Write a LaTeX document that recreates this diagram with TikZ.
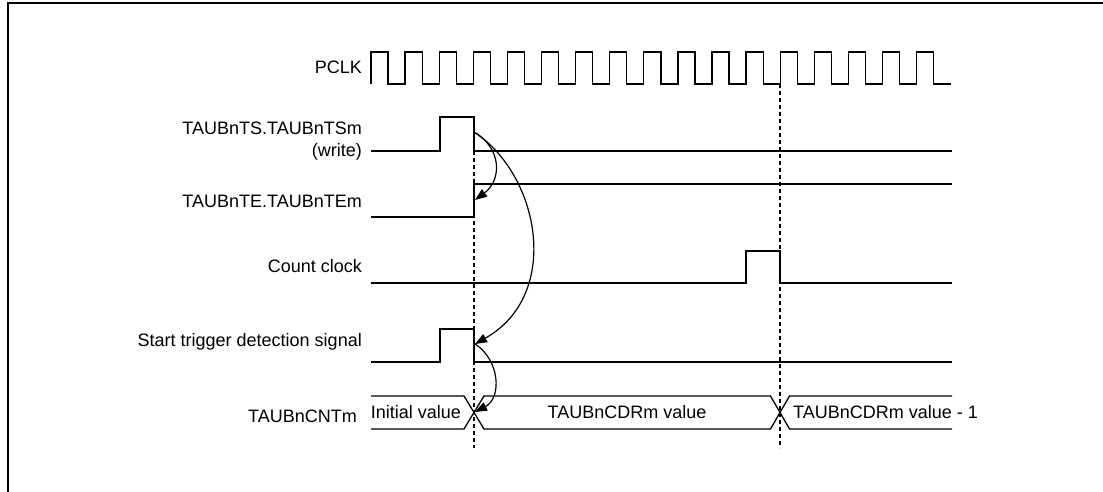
\documentclass[tikz,border=0pt]{standalone}
\usepackage{fontspec}
\setmainfont{Liberation Sans}
\usetikzlibrary{arrows.meta}

\begin{document}
\begin{tikzpicture}[x=1pt, y=-1pt]
    % Define colours
    \definecolor{lineColour}{HTML}{000000}

    % Define timing values
    \def\xStart{371}
    \def\xEnd{952}
    \def\half{17.05}

    % Define styles
    \tikzset{
        signal/.style={draw=lineColour, line width=1.3pt},
        guide/.style={draw=lineColour, line width=1.2pt, dash pattern=on 4pt off 3pt},
        sigLabel/.style={anchor=base east, inner sep=0pt, font=\fontsize{18}{22.4}\selectfont},
        busText/.style={inner sep=0pt, font=\fontsize{18}{22}\selectfont},
        cause/.style={draw=lineColour, line width=1.2pt, -{Triangle[length=12pt,width=9pt]}}
    }

    % Fix picture size
    \useasboundingbox (0,0) rectangle (1103,492);

    % Draw frame
    \draw[line width=2pt] (8,492) -- (8,3) -- (1103,3);

    % Draw guides
    \draw[guide] (474,151) -- (474,448);
    \draw[guide] (780,84) -- (780,448);

    % Draw PCLK
    \draw[signal] (\xStart,84) -- (\xStart,52)
        \foreach \k in {1,...,16} {-- ++(\half,0) -- ++(0,32) -- ++(\half,0) -- ++(0,-32)}
        -- ++(\half,0) -- ++(0,32) -- ++(\half,0);

    % Draw TAUBnTS.TAUBnTSm
    \draw[signal] (\xStart,151) -- (440,151) -- (440,117) -- (474,117) -- (474,151) -- (\xEnd,151);

    % Draw TAUBnTE.TAUBnTEm
    \draw[signal] (\xStart,217) -- (474,217) -- (474,184) -- (\xEnd,184);

    % Draw count clock
    \draw[signal] (\xStart,283) -- (746,283) -- (746,251) -- (780,251) -- (780,283) -- (\xEnd,283);

    % Draw start trigger detection signal
    \draw[signal] (\xStart,362) -- (440,362) -- (440,329) -- (474,329) -- (474,362) -- (\xEnd,362);

    % Draw TAUBnCNTm bus
    \draw[signal] (\xStart,396) -- (464,396) -- (484,429) -- (770.5,429) -- (789.5,396) -- (\xEnd,396);
    \draw[signal] (\xStart,429) -- (464,429) -- (484,396) -- (770.5,396) -- (789.5,429) -- (\xEnd,429);

    % Label the signals
    \node[sigLabel] (lblPCLK) at (362,74) {PCLK};
    \node[sigLabel, anchor=east, align=right] (lblTS) at (362,141) {TAUBnTS.TAUBnTSm\\(write)};
    \node[sigLabel] (lblTE) at (362,207) {TAUBnTE.TAUBnTEm};
    \node[sigLabel] (lblCnt) at (362,272) {Count clock};
    \node[sigLabel] (lblTrig) at (362,346) {Start trigger detection signal};
    \node[sigLabel] (lblCNT) at (357,422) {TAUBnCNTm};

    % Label the bus values
    \node[busText] (valInit) at (416,412.5) {Initial value};
    \node[busText] (valCDR) at (627,412.5) {TAUBnCDRm value};
    \node[busText, anchor=west] (valCDR1) at (793,412.5) {TAUBnCDRm value - 1};

    % Define coordinates for the arrow ends
    \coordinate (tsFall) at (474,132);
    \coordinate (teRise) at (475,200);
    \coordinate (trigFall) at (475,344);
    \coordinate (cntCross) at (475,412);

    % Draw the cause arrows
    \draw[cause] (tsFall) .. controls (502,148) and (502,180) .. (teRise);
    \draw[cause] (tsFall) .. controls (540,175) and (562,295) .. (trigFall);
    \draw[cause] (trigFall) .. controls (500,360) and (502,398) .. (cntCross);

\end{tikzpicture}
\end{document}
